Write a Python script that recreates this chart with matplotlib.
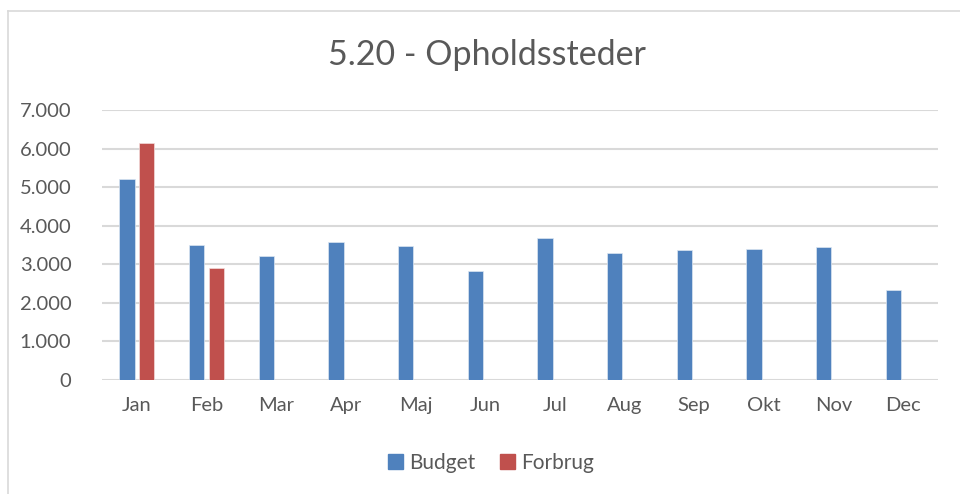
import matplotlib.pyplot as plt
from matplotlib.lines import Line2D
import numpy as np

months = ['Jan', 'Feb', 'Mar', 'Apr', 'Maj', 'Jun', 'Jul', 'Aug', 'Sep', 'Okt', 'Nov', 'Dec']
budget = [5200, 3510, 3205, 3570, 3465, 2830, 3675, 3300, 3370, 3400, 3440, 2345]
forbrug = [6150, 2895, None, None, None, None, None, None, None, None, None, None]
yticks = [0, 1000, 2000, 3000, 4000, 5000, 6000, 7000]

plt.rcParams['font.family'] = ['Lato', 'DejaVu Sans']
txt = '#595959'
grid = '#D9D9D9'

fig = plt.figure(figsize=(9.6, 4.94), dpi=100)
ax = fig.add_axes([102 / 960, 1 - 380 / 494, 836 / 960, 270 / 494])

x = np.arange(len(months))
w = 0.22
ax.bar(x - 0.143, budget, w, color='#4F81BD', edgecolor='#DCE6F2', linewidth=0.5, label='Budget', zorder=3)
fx = [i for i, v in enumerate(forbrug) if v is not None]
fv = [v for v in forbrug if v is not None]
ax.bar(np.array(fx) + 0.143, fv, w, color='#C0504D', edgecolor='#F2DCDB', linewidth=0.5, label='Forbrug', zorder=3)

ax.set_xlim(-0.5, 11.5)
ax.set_ylim(0, 7000)
ax.set_yticks(yticks)
ax.set_yticklabels([f'{v:,}'.replace(',', '.') for v in yticks])
ax.set_xticks(x)
ax.set_xticklabels(months)
ax.tick_params(length=0, labelsize=14.5, colors=txt)
ax.tick_params(axis='y', pad=22)
ax.tick_params(axis='x', pad=12)
ax.yaxis.grid(True, color=grid, linewidth=1.5, zorder=0)
for s in ax.spines.values():
    s.set_visible(False)

fig.text(487 / 960, 1 - 55 / 494, '5.20 - Opholdssteder', ha='center', va='center', fontsize=24.5, color=txt)

handles = [plt.Rectangle((0, 0), 1, 1, color='#4F81BD'), plt.Rectangle((0, 0), 1, 1, color='#C0504D')]
fig.legend(handles, ['Budget', 'Forbrug'], loc='center', bbox_to_anchor=(491 / 960, 1 - 463 / 494),
           ncol=2, frameon=False, fontsize=15, labelcolor=txt, handlelength=0.7, handleheight=0.7,
           handletextpad=0.3, columnspacing=1.2)

# chart border (only top and left are inside the picture)
fig.add_artist(Line2D([7.5 / 960, 7.5 / 960], [0, 1 - 11 / 494], color=grid, linewidth=1.2))
fig.add_artist(Line2D([7.5 / 960, 1], [1 - 11 / 494, 1 - 11 / 494], color=grid, linewidth=1.2))

fig.savefig('out.png', dpi=100)
